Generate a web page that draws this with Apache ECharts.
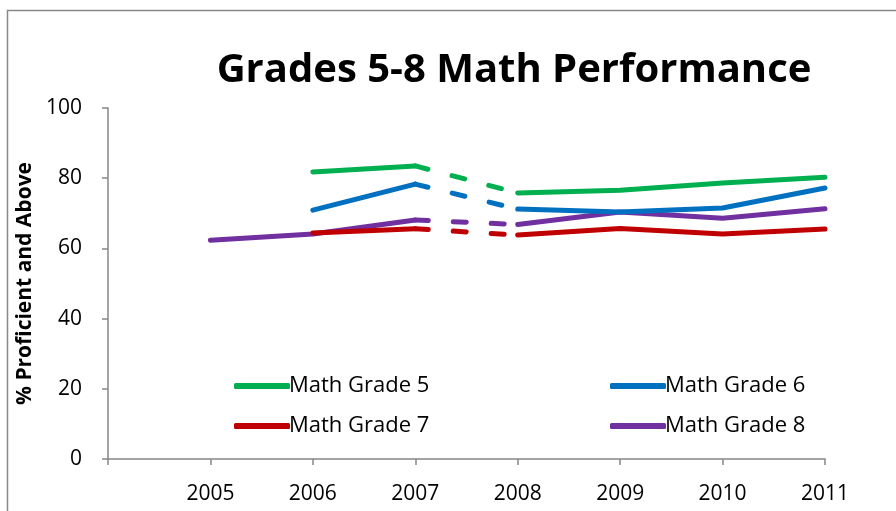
<!DOCTYPE html>
<html>
<head>
<meta charset="utf-8">
<script src="https://cdn.jsdelivr.net/npm/echarts@6/dist/echarts.min.js"></script>
<style>
    * { margin: 0; padding: 0; }
    html, body { background: #fff; }
</style>
</head>
<body>
<!-- chart container -->
<div id="mathPerf" style="width: 896px;height: 511px;"></div>
<script>
    var years = [2005, 2006, 2007, 2008, 2009, 2010, 2011];
    var seriesNames = ['Math Grade 5', 'Math Grade 6', 'Math Grade 7', 'Math Grade 8'];
    var colors = ['#00b050', '#0070c0', '#c00000', '#7030a0'];
    // null = no data for that year
    var grade5 = [null, 81.8, 83.5, 75.8, 76.6, 78.6, 80.3];
    var grade6 = [null, 70.9, 78.3, 71.2, 70.4, 71.5, 77.2];
    var grade7 = [null, 64.4, 65.6, 63.8, 65.7, 64.1, 65.5];
    var grade8 = [62.3, 64.1, 68.1, 66.8, 70.4, 68.6, 71.3];
    var yTicks = [0, 20, 40, 60, 80, 100];

    var allData = [grade5, grade6, grade7, grade8];

    // solid part: break between 2007 and 2008
    function solidPart(vals) {
        var out = [];
        for (var i = 0; i < years.length; i++) {
            if (years[i] === 2008) out.push([2007.5, '-']);
            out.push([years[i], vals[i] == null ? '-' : vals[i]]);
        }
        return out;
    }
    // dashed part: 2007 -> 2008 only
    function dashPart(vals) {
        var i7 = years.indexOf(2007), i8 = years.indexOf(2008);
        return [[2007, vals[i7]], [2008, vals[i8]]];
    }

    var series = [];
    allData.forEach(function (vals, k) {
        series.push({
            name: seriesNames[k],
            type: 'line',
            symbol: 'none',
            connectNulls: false,
            data: solidPart(vals),
            lineStyle: { color: colors[k], width: 5, cap: 'round', join: 'round' },
            itemStyle: { color: colors[k] },
            z: 10 - k
        });
        series.push({
            name: seriesNames[k] + ' dash',
            type: 'line',
            symbol: 'none',
            data: dashPart(vals),
            lineStyle: { color: colors[k], width: 5, type: [13, 25], cap: 'round' },
            itemStyle: { color: colors[k] },
            z: 10 - k
        });
    });

    var legendPos = [[229, 370], [605, 370], [229, 410], [605, 410]];
    var legends = seriesNames.map(function (n, k) {
        return {
            data: [n],
            left: legendPos[k][0],
            top: legendPos[k][1],
            icon: 'roundRect',
            itemWidth: 56,
            itemHeight: 6,
            itemGap: 0,
            textStyle: { fontFamily: 'Open Sans', fontSize: 22, color: '#000', padding: [0, 0, 0, -6] }
        };
    });

    var chart = echarts.init(document.getElementById('mathPerf'));
    chart.setOption({
        animation: false,
        color: colors,
        title: {
            text: 'Grades 5-8 Math Performance',
            left: 509,
            textAlign: 'center',
            top: 46,
            textStyle: { fontFamily: 'Open Sans', fontWeight: 'bold', fontSize: 40, color: '#000' }
        },
        legend: legends,
        grid: { left: 108, right: 71, top: 108, bottom: 52 },
        graphic: [{
            type: 'rect',
            shape: { x: 7.5, y: 10.5, width: 1000, height: 1000 },
            style: { fill: 'none', stroke: '#888', lineWidth: 1.5 },
            silent: true
        }],
        xAxis: {
            type: 'value',
            min: 2004,
            max: 2011,
            interval: 1,
            axisLine: { lineStyle: { color: '#868686', width: 1.5 } },
            axisTick: { show: true, length: 6, lineStyle: { color: '#868686', width: 1.5 } },
            splitLine: { show: false },
            axisLabel: {
                fontFamily: 'Open Sans', fontSize: 21, color: '#000', margin: 25,
                formatter: function (v) { return years.indexOf(v) >= 0 ? String(v) : ''; }
            }
        },
        yAxis: {
            type: 'value',
            min: yTicks[0],
            max: yTicks[yTicks.length - 1],
            interval: 20,
            name: '% Proficient and Above',
            nameLocation: 'middle',
            nameGap: 66,
            nameTextStyle: { fontFamily: 'Open Sans', fontWeight: 'bold', fontSize: 21, color: '#000' },
            axisLine: { show: true, lineStyle: { color: '#868686', width: 1.5 } },
            axisTick: { show: true, length: 6, lineStyle: { color: '#868686', width: 1.5 } },
            splitLine: { show: false },
            axisLabel: { fontFamily: 'Open Sans', fontSize: 21, color: '#000', margin: 26 }
        },
        series: series
    });
</script>
</body>
</html>
